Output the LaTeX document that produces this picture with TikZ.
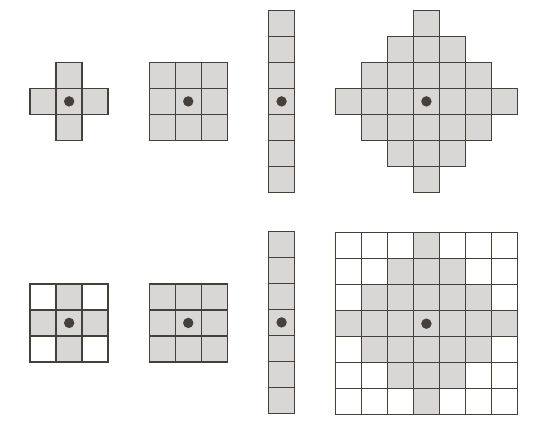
\documentclass[tikz,border=0pt]{standalone}
\definecolor{edge}{RGB}{70,64,58}
\definecolor{shade}{RGB}{216,215,214}
\begin{document}
\begin{tikzpicture}[x=0.5cm,y=0.5cm,
	cell/.style={draw=edge,fill=shade,line width=0.8pt},
	blank/.style={draw=edge,fill=white,line width=0.8pt},
	dot/.style={fill=edge}]
	\useasboundingbox (0,0) rectangle (21.115,-17.115);
	% top row
	\begin{scope}[shift={(2.66,-3.9)}]
		\foreach \i/\j in {0/1,-1/0,0/0,1/0,0/-1}
			\draw[cell] (\i-0.5,\j-0.5) rectangle ++(1,1);
		\fill[dot] (0,0) circle (0.2);
	\end{scope}
	\begin{scope}[shift={(7.24,-3.9)}]
		\foreach \i in {-1,0,1}
			\foreach \j in {-1,0,1}
				\draw[cell] (\i-0.5,\j-0.5) rectangle ++(1,1);
		\fill[dot] (0,0) circle (0.2);
	\end{scope}
	\begin{scope}[shift={(10.83,-3.9)}]
		\foreach \j in {-3,...,3}
			\draw[cell] (-0.5,\j-0.5) rectangle ++(1,1);
		\fill[dot] (0,0) circle (0.2);
	\end{scope}
	\begin{scope}[shift={(16.4,-3.9)}]
		\foreach \i in {-3,...,3}
			\foreach \j in {-3,...,3}{
				\pgfmathtruncatemacro\d{abs(\i)+abs(\j)}
				\ifnum\d<4 \draw[cell] (\i-0.5,\j-0.5) rectangle ++(1,1); \fi
			}
		\fill[dot] (0,0) circle (0.2);
	\end{scope}
	% bottom row
	\begin{scope}[shift={(2.66,-12.42)}]
		\foreach \i in {-1,0,1}
			\foreach \j in {-1,0,1}{
				\pgfmathtruncatemacro\d{abs(\i)+abs(\j)}
				\ifnum\d<2 \def\kind{cell}\else\def\kind{blank}\fi
				\draw[\kind] (\i-0.5,\j-0.5) rectangle ++(1,1);
			}
		\fill[dot] (0,0) circle (0.2);
	\end{scope}
	\begin{scope}[shift={(7.24,-12.42)}]
		\foreach \i in {-1,0,1}
			\foreach \j in {-1,0,1}
				\draw[cell] (\i-0.5,\j-0.5) rectangle ++(1,1);
		\fill[dot] (0,0) circle (0.2);
	\end{scope}
	\begin{scope}[shift={(10.83,-12.4)}]
		\foreach \j in {-3,...,3}
			\draw[cell] (-0.5,\j-0.5) rectangle ++(1,1);
		\fill[dot] (0,0) circle (0.2);
	\end{scope}
	\begin{scope}[shift={(16.4,-12.45)}]
		\foreach \i in {-3,...,3}
			\foreach \j in {-3,...,3}{
				\pgfmathtruncatemacro\d{abs(\i)+abs(\j)}
				\ifnum\d<4 \def\kind{cell}\else\def\kind{blank}\fi
				\draw[\kind] (\i-0.5,\j-0.5) rectangle ++(1,1);
			}
		\fill[dot] (0,0) circle (0.2);
	\end{scope}
\end{tikzpicture}
\end{document}
